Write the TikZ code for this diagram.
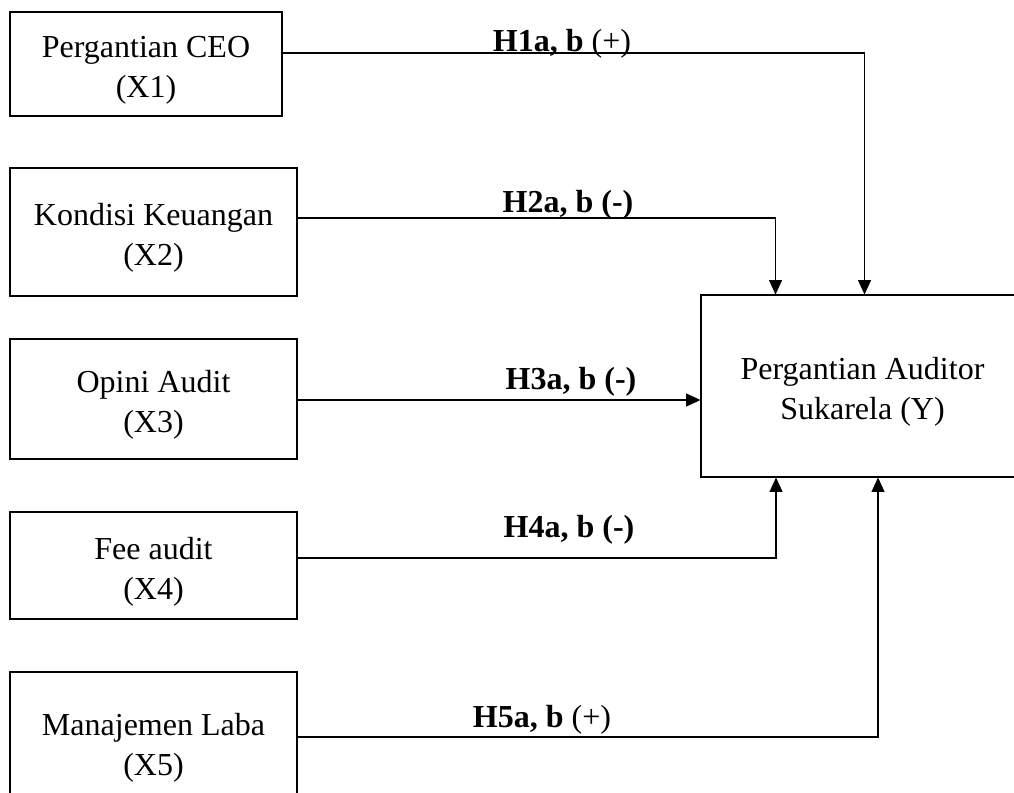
\documentclass[tikz,border=0pt]{standalone}
\usepackage{fontspec}
\setmainfont{Liberation Serif}
\usetikzlibrary{arrows.meta,calc}
\newcommand{\diagScale}{0.375}
\newcommand{\boxLift}{\rule{0pt}{34pt}}

\begin{document}
\begin{tikzpicture}[x=1pt, y=-1pt, scale=\diagScale, transform shape]
  \tikzset{
    varbox/.style={draw, line width=0.9pt, align=center, minimum width=287pt, inner sep=0pt, font=\fontsize{32}{40}\selectfont},
    hlink/.style={line width=0.6pt, -{Triangle[length=5.4pt,width=4.8pt]}},
    hlabel/.style={anchor=base, inner sep=0pt, font=\fontsize{32}{39}\selectfont\bfseries}
  }
  \useasboundingbox (0,0) rectangle (1014,793);
  \clip (0,0) rectangle (1014,793);
  % independent variables
  \node[varbox, minimum width=272pt, minimum height=104pt] (x1) at (146,64) {\boxLift Pergantian CEO\\(X1)};
  \node[varbox, minimum height=128pt] (x2) at (153.5,232) {\boxLift Kondisi Keuangan\\(X2)};
  \node[varbox, minimum height=120pt] (x3) at (153.5,399) {\boxLift Opini Audit\\(X3)};
  \node[varbox, minimum height=107pt] (x4) at (153.5,565.5) {\boxLift Fee audit\\(X4)};
  \node[varbox, minimum height=140pt] (x5) at (153.5,742) {\boxLift Manajemen Laba\\(X5)};
  % dependent variable
  \node[varbox, minimum width=323pt, minimum height=182pt] (y) at (862.5,386) {\boxLift Pergantian Auditor\\Sukarela (Y)};
  % hypotheses
  \draw[hlink] ($(x1.east)+(0,-11)$) -| ($(y.north)+(2,0)$);
  \draw[hlink] ($(x2.east)+(0,-14)$) -| ($(y.north)+(-87,0)$);
  \draw[hlink] ($(x3.east)+(0,1)$) coordinate (h3s) -- (h3s -| y.west);
  \draw[hlink] ($(x4.east)+(0,-7.5)$) -| ($(y.south)+(-86.5,0)$);
  \draw[hlink] ($(x5.east)+(0,-5)$) -| ($(y.south)+(15.5,0)$);
  \node[hlabel] (h1) at (562,52) {H1a, b \textmd{(+)}};
  \node[hlabel] (h2) at (568,213) {H2a, b (-)};
  \node[hlabel] (h3) at (571,390) {H3a, b (-)};
  \node[hlabel] (h4) at (569,538) {H4a, b (-)};
  \node[hlabel] (h5) at (542,728) {H5a, b \textmd{(+)}};
\end{tikzpicture}
\end{document}
